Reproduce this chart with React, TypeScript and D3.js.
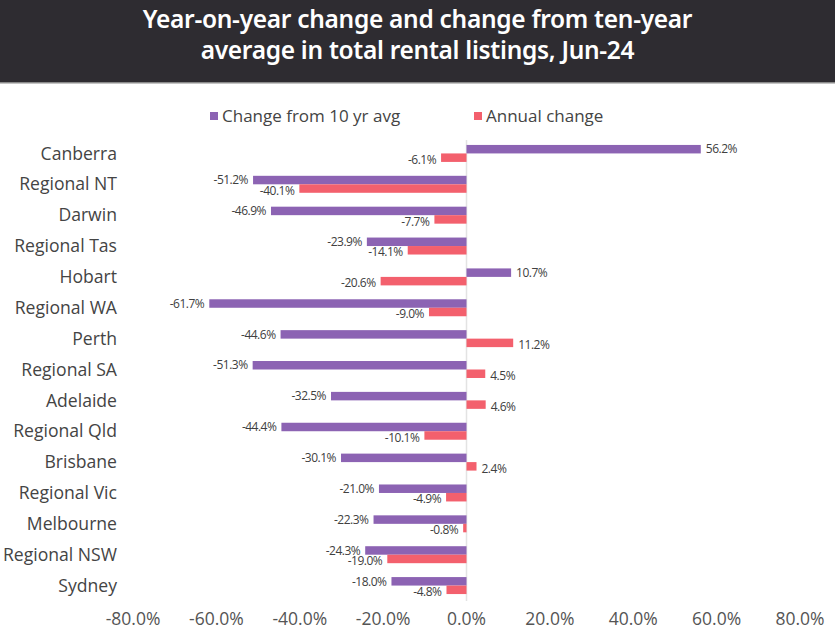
import React, { useEffect, useRef } from 'react';
import * as d3 from 'd3';

const regions = [
  'Canberra', 'Regional NT', 'Darwin', 'Regional Tas', 'Hobart', 'Regional WA', 'Perth',
  'Regional SA', 'Adelaide', 'Regional Qld', 'Brisbane', 'Regional Vic', 'Melbourne',
  'Regional NSW', 'Sydney',
];
const tenYearAvg = [56.2, -51.2, -46.9, -23.9, 10.7, -61.7, -44.6, -51.3, -32.5, -44.4, -30.1, -21.0, -22.3, -24.3, -18.0];
const annualChange = [-6.1, -40.1, -7.7, -14.1, -20.6, -9.0, 11.2, 4.5, 4.6, -10.1, 2.4, -4.9, -0.8, -19.0, -4.8];
const seriesNames = ['Change from 10 yr avg', 'Annual change'];
const xTicks = [-80, -60, -40, -20, 0, 20, 40, 60, 80];

const W = 835;
const H = 634;
const colors = ['#8c63b3', '#f3606d'];
const FONT = '"Open Sans", Lato, sans-serif';

export default function App() {
  const svgRef = useRef<SVGSVGElement>(null);

  useEffect(() => {
    if (!svgRef.current) return;
    const svg = d3.select(svgRef.current);
    svg.selectAll('*').remove();

    // title bar
    svg.append('rect').attr('x', 0).attr('y', 0).attr('width', W).attr('height', 82).attr('fill', '#2e2c31');
    svg.append('rect').attr('x', 0).attr('y', 82).attr('width', W).attr('height', 1.5).attr('fill', '#8a8a8a');
    const title = ['Year-on-year change and change from ten-year', 'average in total rental listings, Jun-24'];
    svg.selectAll('text.title')
      .data(title)
      .join('text')
      .attr('class', 'title')
      .attr('x', W / 2)
      .attr('y', (_, i) => 28 + i * 31)
      .attr('text-anchor', 'middle')
      .attr('fill', '#ffffff')
      .style('font-family', '"Noto Sans", Roboto, sans-serif')
      .style('font-size', '24.5px')
      .style('font-weight', 600)
      .style('letter-spacing', '-0.3px')
      .text(d => d);

    const x = d3.scaleLinear().domain([-80, 80]).range([133, 800]);
    const y = d3.scaleBand<string>().domain(regions).range([138, 601]).paddingInner(0.45).paddingOuter(0.225);
    const sub = d3.scaleBand<number>().domain([0, 1]).range([0, y.bandwidth()]);

    // legend
    const legendX = [210, 474];
    const lg = svg.append('g');
    seriesNames.forEach((name, i) => {
      lg.append('rect').attr('x', legendX[i]).attr('y', 112).attr('width', 8).attr('height', 8).attr('fill', colors[i]);
      lg.append('text')
        .attr('x', legendX[i] + 12)
        .attr('y', 116)
        .attr('dy', '0.35em')
        .attr('fill', '#444')
        .style('font-family', FONT)
        .style('font-size', '17px')
        .text(name);
    });

    // zero line
    svg.append('line')
      .attr('x1', x(0)).attr('x2', x(0))
      .attr('y1', 140).attr('y2', 601)
      .attr('stroke', '#e3e3e3').attr('stroke-width', 1.5);

    // category labels
    svg.append('g')
      .selectAll('text')
      .data(regions)
      .join('text')
      .attr('x', 117)
      .attr('y', d => (y(d) as number) + y.bandwidth() / 2)
      .attr('dy', '0.35em')
      .attr('text-anchor', 'end')
      .attr('fill', '#444')
      .style('font-family', FONT)
      .style('font-size', '17.6px')
      .text(d => d);

    const series = [tenYearAvg, annualChange];
    series.forEach((vals, si) => {
      const g = svg.append('g');
      const rows = regions.map((r, i) => ({ r, v: vals[i] }));
      g.selectAll('rect')
        .data(rows)
        .join('rect')
        .attr('x', d => x(Math.min(0, d.v)))
        .attr('width', d => Math.abs(x(d.v) - x(0)))
        .attr('y', d => (y(d.r) as number) + (sub(si) as number))
        .attr('height', sub.bandwidth())
        .attr('fill', colors[si]);
      g.selectAll('text')
        .data(rows)
        .join('text')
        .attr('x', d => (d.v < 0 ? x(d.v) - 5 : x(d.v) + 5))
        .attr('y', d => (y(d.r) as number) + (sub(si) as number) + sub.bandwidth() / 2 + (si === 0 ? 0 : 2))
        .attr('dy', '0.35em')
        .attr('text-anchor', d => (d.v < 0 ? 'end' : 'start'))
        .attr('fill', '#404040')
        .style('font-family', FONT)
        .style('font-size', '12px')
        .style('letter-spacing', '-0.5px')
        .text(d => `${d.v.toFixed(1)}%`);
    });

    // x axis tick labels
    svg.append('g')
      .selectAll('text')
      .data(xTicks)
      .join('text')
      .attr('x', d => x(d))
      .attr('y', 619)
      .attr('dy', '0.35em')
      .attr('text-anchor', 'middle')
      .attr('fill', '#555')
      .style('font-family', FONT)
      .style('font-size', '17.5px')
      .text(d => `${d.toFixed(1)}%`);
  }, []);

  return (
    <svg
      ref={svgRef}
      width={W}
      height={H}
      style={{ position: 'absolute', left: 0, top: 0, background: '#fff' }}
    />
  );
}
